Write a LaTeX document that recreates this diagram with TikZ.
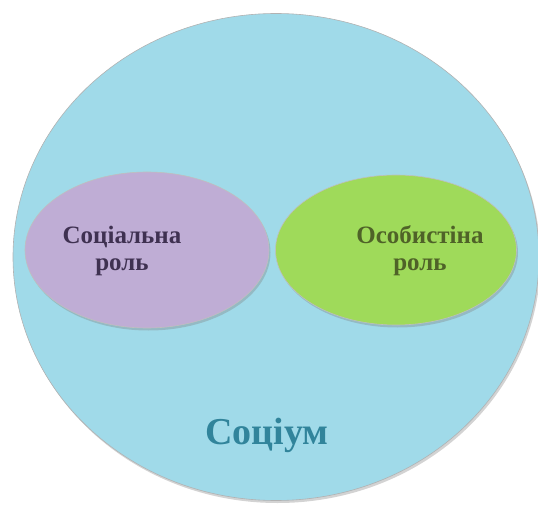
\documentclass[tikz,border=0pt]{standalone}
\usepackage{fontspec}
\setmainfont{Liberation Serif}
\usepackage{xcolor}
\usetikzlibrary{positioning, calc, shadows, shapes.geometric}
\definecolor{sociumblue}{HTML}{A0DAE9}
\definecolor{sociumtext}{HTML}{31849B}
\definecolor{lavanda}{HTML}{BFADD5}
\definecolor{lavtext}{HTML}{3F3151}
\definecolor{lima}{HTML}{9FDA5A}
\definecolor{limatext}{HTML}{4F6228}
\tikzset{
  fondo/.style={ellipse, draw=white!70!black, line width=0.6pt, inner sep=0pt,
    drop shadow={shadow xshift=1.5pt, shadow yshift=-2.5pt, opacity=0.35}},
  burbuja/.style={fondo, draw=black!25},
  rotulo/.style={font=\bfseries\fontsize{25}{27}\selectfont, align=center},
}
\begin{document}
\begin{tikzpicture}[x=1pt, y=-1pt]
  \useasboundingbox (0,0) rectangle (538,505);
  \begin{scope}
    \clip (0,0) rectangle (538,505);
    \node[fondo, fill=sociumblue, minimum width=526pt, minimum height=487pt] (socium) at (276,257) {};
  \end{scope}
  \node[burbuja, fill=lavanda, minimum width=244pt, minimum height=156pt] (social) at (147,250) {};
  \node[burbuja, fill=lima, minimum width=241pt, minimum height=150pt] (osob) at (396,250) {};
  \node[rotulo, text=lavtext] (socialtxt) at ($(social.center)+(-25,1)$) {Соціальна\\роль};
  \node[rotulo, text=limatext] (osobtxt) at ($(osob.center)+(24,1)$) {Особистіна\\роль};
  \node[font=\bfseries\fontsize{38}{40}\selectfont, text=sociumtext] (sociumtxt) at (267,435) {Соціум};
\end{tikzpicture}
\end{document}
